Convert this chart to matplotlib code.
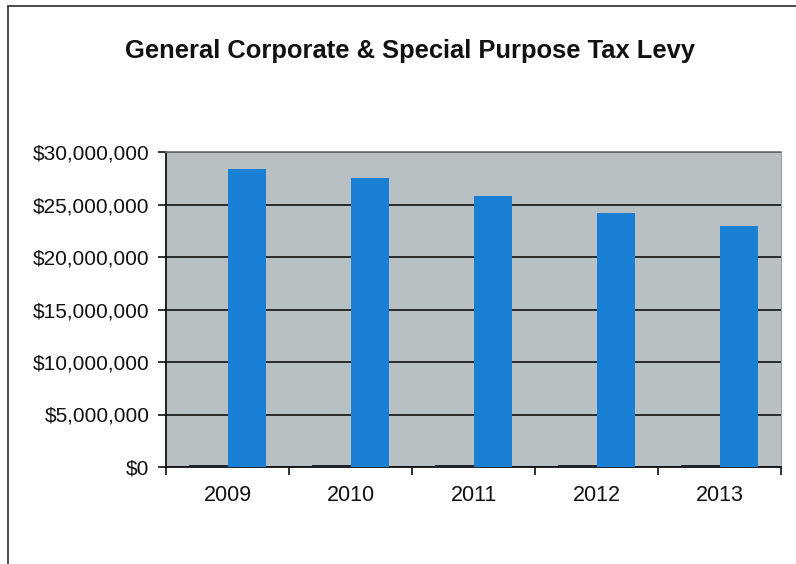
import matplotlib
matplotlib.use("Agg")
import matplotlib.pyplot as plt
import numpy as np
from matplotlib.patches import Rectangle
from matplotlib.ticker import FuncFormatter, FixedLocator

plt.rcParams["font.family"] = ["Liberation Sans", "DejaVu Sans"]

# Levy by year; the first series is near zero and shows as a thin dark sliver
years = ["2009", "2010", "2011", "2012", "2013"]
other_levy = [200000, 200000, 180000, 180000, 160000]
tax_levy = [28400000, 27550000, 25850000, 24150000, 23000000]
y_ticks = [0, 5000000, 10000000, 15000000, 20000000, 25000000, 30000000]

fig = plt.figure(figsize=(7.96, 5.64), dpi=100)
fig.patch.set_facecolor("white")

# outer chart frame, open at right and bottom
fig.add_artist(Rectangle((8 / 796, -0.1), 1.2, 1.1 - 6 / 564, transform=fig.transFigure,
                         fill=False, edgecolor="#3a3a44", linewidth=1.3))

ax = fig.add_axes([166 / 796, 1 - 467 / 564, 615 / 796, 315 / 564])
ax.set_facecolor("#b9c0c4")

x = np.arange(len(years))
w = 0.31
ax.bar(x - w / 2, other_levy, width=w, color="#23232e", zorder=3)
ax.bar(x + w / 2, tax_levy, width=w, color="#1a80d6", zorder=3)

ax.set_xlim(-0.5, len(years) - 0.5)
ax.set_ylim(0, 30000000)
ax.set_yticks(y_ticks)
ax.yaxis.set_major_formatter(FuncFormatter(lambda v, p: f"${v:,.0f}"))
ax.yaxis.grid(True, color="#111111", linewidth=1.2, zorder=2)
ax.set_axisbelow(True)

ax.set_xticks(x)
ax.set_xticklabels(years)
ax.xaxis.set_minor_locator(FixedLocator(np.arange(-0.5, len(years), 1.0)))
ax.tick_params(axis="x", which="major", length=0, pad=13, labelsize=15.5, colors="#111111")
ax.tick_params(axis="x", which="minor", length=6, width=1.2, color="#111111", direction="out")
ax.tick_params(axis="y", length=6, width=1.2, color="#111111", pad=6, labelsize=15,
               labelcolor="#111111")

for side in ("left", "bottom"):
    ax.spines[side].set_color("#111111")
    ax.spines[side].set_linewidth(1.3)
ax.spines["top"].set_color("#6e7277")
ax.spines["top"].set_linewidth(1.2)
ax.spines["right"].set_color("#9aa1a8")
ax.spines["right"].set_linewidth(0.8)

fig.text(410 / 796, 1 - 51 / 564, "General Corporate & Special Purpose Tax Levy",
         ha="center", va="center", fontsize=18.4, fontweight="bold", color="#111111")

fig.savefig("out.png", dpi=100)
